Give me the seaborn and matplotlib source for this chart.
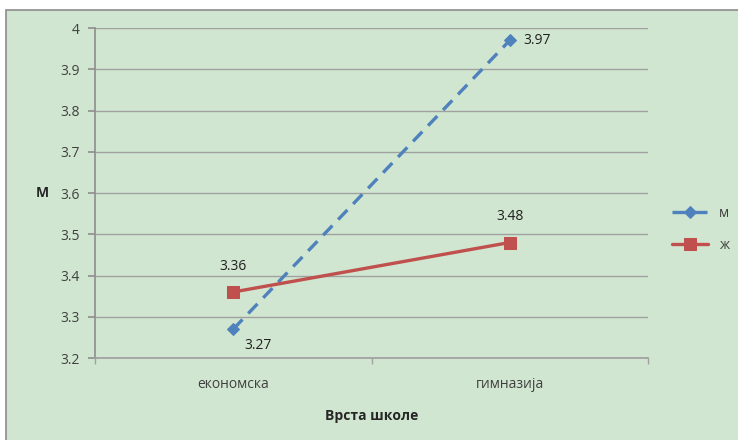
import matplotlib
matplotlib.use("Agg")
import matplotlib.pyplot as plt
import seaborn as sns
import pandas as pd
from matplotlib.patches import Rectangle

# Data
school_types = ["економска", "гимназија"]
male_means = [3.27, 3.97]
female_means = [3.36, 3.48]
series_names = ["м", "ж"]

sns.set_theme(style="white")
plt.rcParams["font.family"] = ["Open Sans", "DejaVu Sans"]

BG = "#D0E6D0"
BLUE = "#4F81BD"
RED = "#C0504D"
TEXT = "#404040"

df = pd.DataFrame({
    "school": school_types * 2,
    "mean": male_means + female_means,
    "sex": [series_names[0]] * 2 + [series_names[1]] * 2,
})

fig = plt.figure(figsize=(7.38, 4.40), dpi=100)
fig.patch.set_facecolor("white")
# green chart area with grey frame (behind the axes)
fig.patches.append(Rectangle((6 / 738, -0.01), 1.02, 1 - 10 / 440 + 0.01,
                             transform=fig.transFigure, facecolor=BG,
                             edgecolor="#8C8C8C", linewidth=1.2, zorder=-10))

ax = fig.add_axes([95 / 738, 1 - 358 / 440, (648 - 95) / 738, (358 - 28) / 440])
ax.set_facecolor(BG)

x_pos = {s: i for i, s in enumerate(school_types)}
df["x"] = df["school"].map(x_pos)

sns.lineplot(data=df[df["sex"] == "м"], x="x", y="mean", ax=ax,
             color=BLUE, linewidth=2.4, linestyle=(0, (4, 2.5)),
             marker="D", markersize=6, markeredgecolor=BLUE, label="м")
sns.lineplot(data=df[df["sex"] == "ж"], x="x", y="mean", ax=ax,
             color=RED, linewidth=2.4, marker="s", markersize=8,
             markeredgecolor=RED, label="ж")

# value labels
for i, v in enumerate(male_means):
    off = (8, -12) if i == 0 else (10, 0)
    ax.annotate(f"{v:.2f}", (i, v), xytext=off, textcoords="offset points",
                ha="left", va="center", fontsize=10, color="#202020")
for i, v in enumerate(female_means):
    ax.annotate(f"{v:.2f}", (i, v), xytext=(0, 13), textcoords="offset points",
                ha="center", va="bottom", fontsize=10, color="#202020")

ax.set_xlim(-0.5, 1.5)
ax.set_ylim(3.2, 4.0)
ax.set_yticks([3.2 + 0.1 * k for k in range(9)])
ax.set_yticklabels(["3.2", "3.3", "3.4", "3.5", "3.6", "3.7", "3.8", "3.9", "4"])
ax.set_xticks(range(len(school_types)))
ax.set_xticklabels(school_types)
ax.yaxis.grid(True, color="#A0A0A0", linewidth=1)
ax.set_axisbelow(True)

for side in ["top", "right"]:
    ax.spines[side].set_visible(False)
ax.spines["left"].set_color("#909090")
ax.spines["bottom"].set_color("#A0A0A0")

ax.tick_params(axis="y", length=5, color="#909090", labelsize=10,
               labelcolor=TEXT, pad=6, left=True)
ax.tick_params(axis="x", length=0, labelsize=10, labelcolor=TEXT, pad=14)
# category boundary tick marks
ax.set_xticks([-0.5, 0.5, 1.5], minor=True)
ax.tick_params(axis="x", which="minor", length=4, color="#A0A0A0", bottom=True)

ax.set_xlabel("Врста школе", fontsize=10, fontweight="bold", labelpad=12)
ax.set_ylabel("M", fontsize=10, fontweight="bold", rotation=0, va="center")
ax.yaxis.set_label_coords(-0.095, 0.5)

leg = ax.legend(loc="center left", bbox_to_anchor=(1.02, 0.39), frameon=False,
                fontsize=10, handlelength=2.6, labelspacing=1.2)
for t in leg.get_texts():
    t.set_color(TEXT)

fig.savefig("out.png", dpi=100, facecolor=fig.get_facecolor())
